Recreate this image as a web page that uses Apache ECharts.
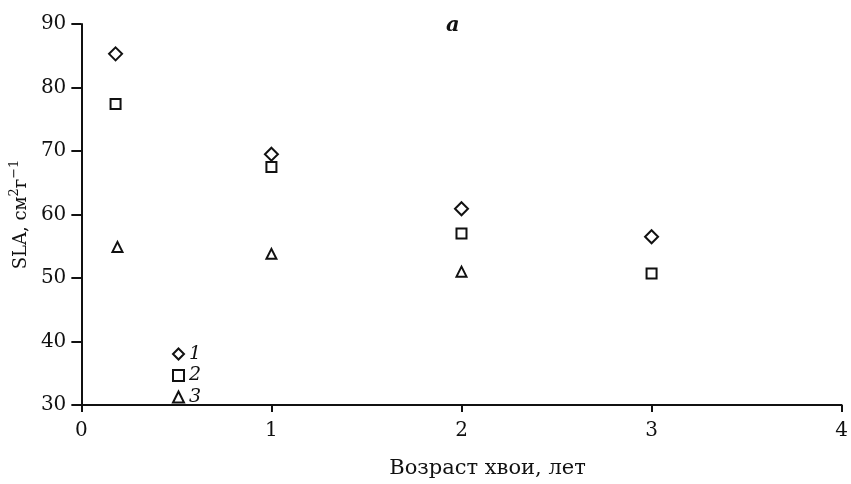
<!DOCTYPE html>
<html>
<head>
<meta charset="utf-8">
<script src="https://cdn.jsdelivr.net/npm/echarts@6/dist/echarts.min.js"></script>
<style>html,body{margin:0;padding:0;background:#fff}#c{width:851px;height:484px}</style>
</head>
<body>
<div id="c"></div>
<script>
// Needle age (years) and SLA values for each series
const age1 = [0.18, 1, 2, 3];
const sla1 = [85.3, 69.5, 60.9, 56.5];
const age2 = [0.18, 1, 2, 3];
const sla2 = [77.4, 67.5, 57.0, 50.7];
const age3 = [0.19, 1, 2];
const sla3 = [54.9, 53.8, 51.0];
const seriesNames = ['1', '2', '3'];
const xTicks = [0, 1, 2, 3, 4];
const yTicks = [30, 40, 50, 60, 70, 80, 90];

const FONT = '"DejaVu Serif", "Liberation Serif", serif';
const pairs = (xs, ys) => xs.map((x, i) => [x, ys[i]]);
const sym = (name, symbol, size, xs, ys) => ({
  name, type: 'scatter', symbol, symbolSize: size,
  data: pairs(xs, ys),
  itemStyle: { color: '#fff', borderColor: '#111', borderWidth: 2, opacity: 1 },
  emphasis: { disabled: true }
});

const chart = echarts.init(document.getElementById('c'), null, { renderer: 'canvas' });
chart.setOption({
  animation: false,
  backgroundColor: '#fff',
  grid: { left: 81, right: 8, top: 24, bottom: 69, containLabel: false },
  title: {
    text: 'a', left: 441, top: 10,
    textStyle: { fontFamily: FONT, fontStyle: 'italic', fontWeight: 'bold', fontSize: 21, color: '#111' }
  },
  legend: {
    orient: 'vertical', left: 172, top: 344, padding: 0,
    itemWidth: 11, itemHeight: 11, itemGap: 1.5,
    data: seriesNames,
    textStyle: { fontFamily: FONT, fontStyle: 'italic', fontSize: 19, color: '#111', lineHeight: 20 }
  },
  xAxis: {
    type: 'value', min: xTicks[0], max: xTicks[xTicks.length - 1], interval: 1,
    name: 'Возраст хвои, лет', nameLocation: 'middle', nameGap: 53,
    nameTextStyle: { fontFamily: FONT, fontSize: 21, color: '#111', padding: [0, 0, 0, 52] },
    axisLine: { lineStyle: { color: '#111', width: 2 } },
    axisTick: { inside: false, length: 7, lineStyle: { color: '#111', width: 2 } },
    axisLabel: { fontFamily: FONT, fontSize: 20, color: '#111', margin: 16 },
    splitLine: { show: false }
  },
  yAxis: {
    type: 'value', min: yTicks[0], max: yTicks[yTicks.length - 1], interval: 10,
    name: '{t|SLA, см}{s|2}{t|г}{s|−1}', nameLocation: 'middle', nameGap: 46,
    nameTextStyle: {
      rich: {
        t: { fontFamily: FONT, fontSize: 18, color: '#111', verticalAlign: 'bottom', lineHeight: 22 },
        s: { fontFamily: FONT, fontSize: 13, color: '#111', verticalAlign: 'top', lineHeight: 22 }
      }
    },
    axisLine: { lineStyle: { color: '#111', width: 2 } },
    axisTick: { inside: false, length: 10, lineStyle: { color: '#111', width: 2 } },
    axisLabel: { fontFamily: FONT, fontSize: 20, color: '#111', margin: 15 },
    splitLine: { show: false }
  },
  series: [
    sym(seriesNames[0], 'diamond', 13, age1, sla1),
    sym(seriesNames[1], 'rect', 10, age2, sla2),
    sym(seriesNames[2], 'triangle', 10, age3, sla3)
  ]
});
</script>
</body>
</html>
